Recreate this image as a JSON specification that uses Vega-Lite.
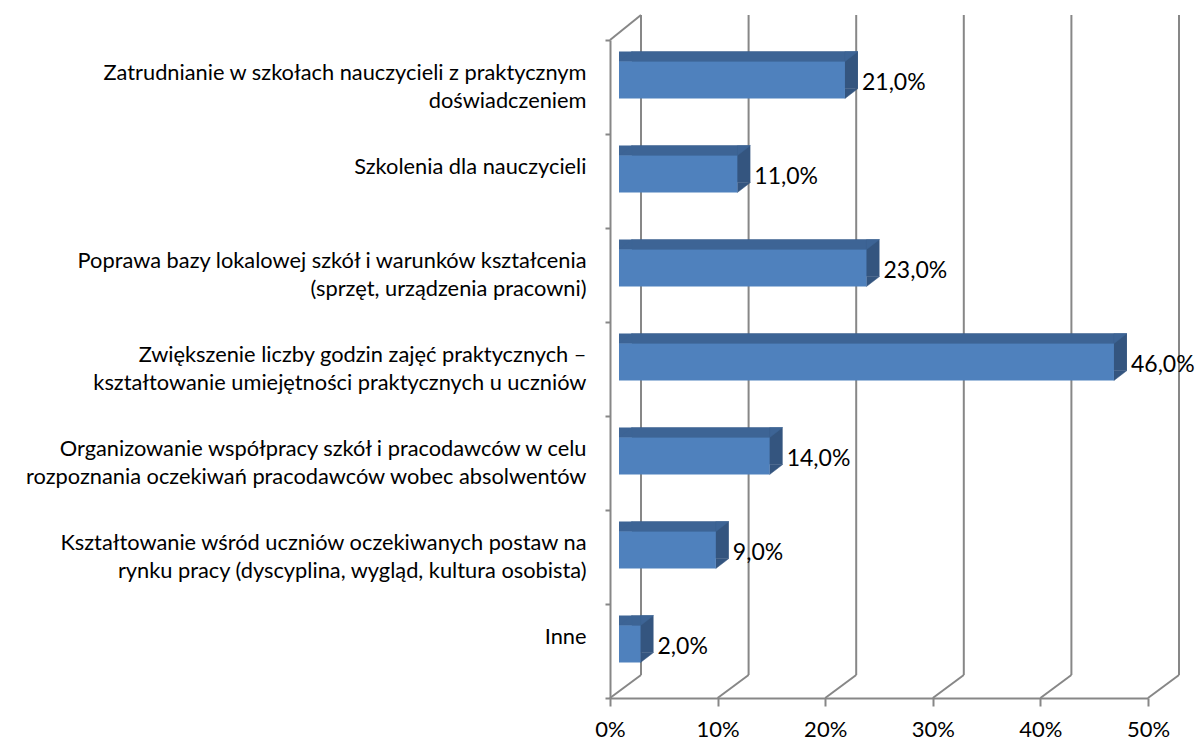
{
  "$schema": "https://vega.github.io/schema/vega-lite/v6.json",
  "width": 538,
  "height": 658,
  "autosize": {"type": "none"},
  "padding": {"left": 610, "top": 40, "right": 52, "bottom": 43},
  "background": "white",
  "config": {
    "view": {"stroke": null},
    "font": "Lato",
    "locale": {"number": {"decimal": ",", "thousands": " ", "grouping": [3], "currency": ["", " zł"]}},
    "axisX": {
      "domainColor": "#878787", "domainWidth": 2,
      "tickColor": "#878787", "tickWidth": 2, "tickSize": 8,
      "labelFont": "Lato", "labelFontSize": 22, "labelColor": "#000000", "labelPadding": 13,
      "labelFlush": false, "labelOverlap": false,
      "grid": false
    }
  },
  "datasets": {
    "bars": [
      {"cat": "Zatrudnianie w szkołach nauczycieli z praktycznym\ndoświadczeniem", "value": 0.21},
      {"cat": "Szkolenia dla nauczycieli", "value": 0.11},
      {"cat": "Poprawa bazy lokalowej szkół i warunków kształcenia\n(sprzęt, urządzenia pracowni)", "value": 0.23},
      {"cat": "Zwiększenie liczby godzin zajęć praktycznych –\nkształtowanie umiejętności praktycznych u uczniów", "value": 0.46},
      {"cat": "Organizowanie współpracy szkół i pracodawców w celu\nrozpoznania oczekiwań pracodawców wobec absolwentów", "value": 0.14},
      {"cat": "Kształtowanie wśród uczniów oczekiwanych postaw na\nrynku pracy (dyscyplina, wygląd, kultura osobista)", "value": 0.09},
      {"cat": "Inne", "value": 0.02}
    ],
    "ticks": [{"t": 0}, {"t": 0.1}, {"t": 0.2}, {"t": 0.3}, {"t": 0.4}, {"t": 0.5}]
  },
  "layer": [
    {
      "data": {"name": "ticks"},
      "mark": {"type": "point", "shape": "M0,-1L0,1", "size": 435600, "filled": false, "opacity": 1, "stroke": "#878787", "strokeWidth": 2, "xOffset": 31, "yOffset": -24},
      "encoding": {
        "x": {"field": "t", "type": "quantitative", "scale": {"domain": [0, 0.5], "nice": false, "zero": true},
          "axis": {"title": null, "values": [0, 0.1, 0.2, 0.3, 0.4, 0.5], "format": ".0%"}}
      }
    },
    {
      "data": {"name": "ticks"},
      "mark": {"type": "point", "shape": "M-1,0.742L1,-0.742", "size": 961, "filled": false, "opacity": 1, "stroke": "#878787", "strokeWidth": 2, "xOffset": 15.5, "yOffset": 317.5},
      "encoding": {
        "x": {"field": "t", "type": "quantitative", "axis": {"title": null}}
      }
    },
    {
      "data": {"name": "ticks"},
      "transform": [{"filter": "datum.t == 0"}],
      "mark": {"type": "point", "shape": "M-1,0.806L1,-0.806", "size": 961, "filled": false, "opacity": 1, "stroke": "#878787", "strokeWidth": 2, "xOffset": 15.5, "yOffset": -341.5},
      "encoding": {
        "x": {"field": "t", "type": "quantitative", "axis": {"title": null}}
      }
    },
    {
      "data": {"name": "bars"},
      "layer": [
        {
          "mark": {"type": "bar", "orient": "horizontal", "color": "#34557F", "height": 37, "xOffset": 22, "x2Offset": 22, "yOffset": -17},
          "encoding": {
            "y": {"field": "cat", "type": "nominal", "sort": null, "scale": {"paddingInner": 0, "paddingOuter": 0},
              "axis": {
                "title": null, "orient": "left",
                "domainColor": "#878787", "domainWidth": 2,
                "tickColor": "#878787", "tickWidth": 2, "tickSize": 5, "tickBand": "extent",
                "labelFont": "Lato", "labelFontSize": 21.8, "labelColor": "#000000",
                "labelLimit": 1000, "labelBaseline": "line-bottom", "labelPadding": 19, "labelAlign": "right",
                "labelLineHeight": 28.5,
                "labelExpr": "indexof(datum.label, '\\n') < 0 ? datum.label : [split(datum.label, '\\n')[0] + (indexof(datum.label, 'Zwiększenie') == 0 ? '\u2002\u2002' : indexof(datum.label, 'Organizowanie') == 0 ? '\u2002\u2005' : ''), split(datum.label, '\\n')[1] + (indexof(datum.label, 'Zatrudnianie') == 0 ? '\u2002\u2002\u2002\u2002\u2002\u2002\u2002\u2002\u2002\u2002\u2002\u2002\u2002\u2002\u2002' : indexof(datum.label, 'Poprawa') == 0 ? '\u2002\u2002\u2002\u2002\u2002\u2002\u2002\u2002\u2002\u2002\u2004' : indexof(datum.label, 'Kształtowanie') == 0 ? '\u2002\u2002\u2004' : '')]"
              }
            },
            "x": {"field": "value", "type": "quantitative", "axis": {"title": null}}
          }
        },
        {
          "mark": {"type": "bar", "orient": "horizontal", "color": "#3D6495", "height": 10, "xOffset": 9, "x2Offset": 22, "yOffset": -30.5},
          "encoding": {
            "y": {"field": "cat", "type": "nominal", "sort": null},
            "x": {"field": "value", "type": "quantitative", "axis": {"title": null}}
          }
        },
        {
          "mark": {"type": "point", "shape": "M-1,0.769L1,-0.769L1,0.769Z", "size": 169, "filled": true, "opacity": 1, "color": "#3D6495", "stroke": "#3D6495", "strokeWidth": 0.5, "xOffset": 15.5, "yOffset": -30.5},
          "encoding": {
            "y": {"field": "cat", "type": "nominal", "sort": null},
            "x": {"datum": 0, "type": "quantitative", "axis": {"title": null}}
          }
        },
        {
          "mark": {"type": "point", "shape": "M-1,0.769L-1,-0.769L1,-0.769Z", "size": 169, "filled": true, "opacity": 1, "color": "#3D6495", "stroke": "#3D6495", "strokeWidth": 0.5, "xOffset": 15.5, "yOffset": -30.5},
          "encoding": {
            "y": {"field": "cat", "type": "nominal", "sort": null},
            "x": {"field": "value", "type": "quantitative", "axis": {"title": null}}
          }
        },
        {
          "mark": {"type": "point", "shape": "M-1,0.769L1,-0.769L-1,-0.769Z", "size": 169, "filled": true, "opacity": 1, "color": "#34557F", "stroke": "#34557F", "strokeWidth": 0.5, "xOffset": 15.5, "yOffset": 6.5},
          "encoding": {
            "y": {"field": "cat", "type": "nominal", "sort": null},
            "x": {"field": "value", "type": "quantitative", "axis": {"title": null}}
          }
        },
        {
          "mark": {"type": "bar", "orient": "horizontal", "color": "#4F81BD", "height": 37, "xOffset": 9, "x2Offset": 9, "yOffset": -7},
          "encoding": {
            "y": {"field": "cat", "type": "nominal", "sort": null},
            "x": {"field": "value", "type": "quantitative", "axis": {"title": null}}
          }
        },
        {
          "mark": {"type": "text", "align": "left", "baseline": "alphabetic", "fontSize": 23, "font": "Lato", "color": "#000000", "xOffset": 26, "yOffset": 3},
          "encoding": {
            "y": {"field": "cat", "type": "nominal", "sort": null},
            "x": {"field": "value", "type": "quantitative", "axis": {"title": null}},
            "text": {"field": "value", "type": "quantitative", "format": ".1%"}
          }
        }
      ]
    }
  ]
}
